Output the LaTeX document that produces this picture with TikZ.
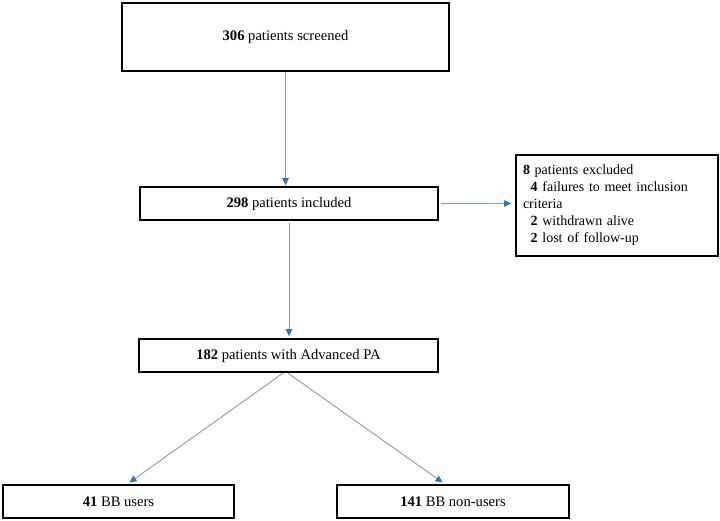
\documentclass[tikz,border=0pt]{standalone}
\usepackage{fontspec}
\setmainfont{Liberation Serif}
\usetikzlibrary{arrows.meta,calc}
\definecolor{linegray}{HTML}{7FA0B8}
\definecolor{tipblue}{HTML}{2E75B6}
\begin{document}
\begin{tikzpicture}[x=1pt,y=-1pt,
  box/.style={draw=black,line width=1.6pt,fill=white,inner sep=0pt,
    font=\fontsize{14.6}{17}\selectfont,align=center},
  conn/.style={draw=linegray,line width=0.9pt,
    -{Triangle[width=6.5pt,length=7pt,color=tipblue]}}]
\useasboundingbox (0,0) rectangle (720,521);
\fill[white] (0,0) rectangle (720,521);
\node[box,minimum width=327pt,minimum height=68pt] (screen) at (285.5,37) {\textbf{306} patients screened};
\node[box,minimum width=298pt,minimum height=33pt] (incl) at (289,203.5) {\textbf{298} patients included};
\node[box,minimum width=299pt,minimum height=33pt] (adv) at (288.5,355.5) {\textbf{182} patients with Advanced PA};
\node[box,minimum width=202pt,minimum height=101pt,align=left,text width=188pt,inner xsep=7pt,
  font=\fontsize{14}{17}\selectfont] (excl) at (617,205.5)
  {\textbf{8} patients excluded\\
   \hspace*{0.55em}\textbf{4} failures to meet inclusion\\
   criteria\\
   \hspace*{0.55em}\textbf{2} withdrawn alive\\
   \hspace*{0.55em}\textbf{2} lost of follow-up};
\node[box,minimum width=231pt,minimum height=33pt] (users) at (118.5,501.5) {\textbf{41} BB users};
\node[box,minimum width=232pt,minimum height=33pt] (nonusers) at (453,501.5) {\textbf{141} BB non-users};
\coordinate (ustart) at ($(adv.south)+(-5,0)$);
\coordinate (nstart) at ($(adv.south)+(-1,0)$);
\coordinate (uend) at ($(users.north)+(8.5,0)$);
\coordinate (nend) at ($(nonusers.north)+(-8,0)$);
\draw[conn,shorten >=1pt] (screen.south) -- (screen.south |- incl.north);
\draw[conn,shorten <=2pt,shorten >=2pt] (incl.south) -- (incl.south |- adv.north);
\draw[conn,shorten <=2pt,shorten >=4pt] (incl.east) -- (incl.east -| excl.west);
\draw[conn,shorten <=1pt,shorten >=3pt] (ustart) -- (uend);
\draw[conn,shorten <=1pt,shorten >=3pt] (nstart) -- (nend);
\end{tikzpicture}
\end{document}
